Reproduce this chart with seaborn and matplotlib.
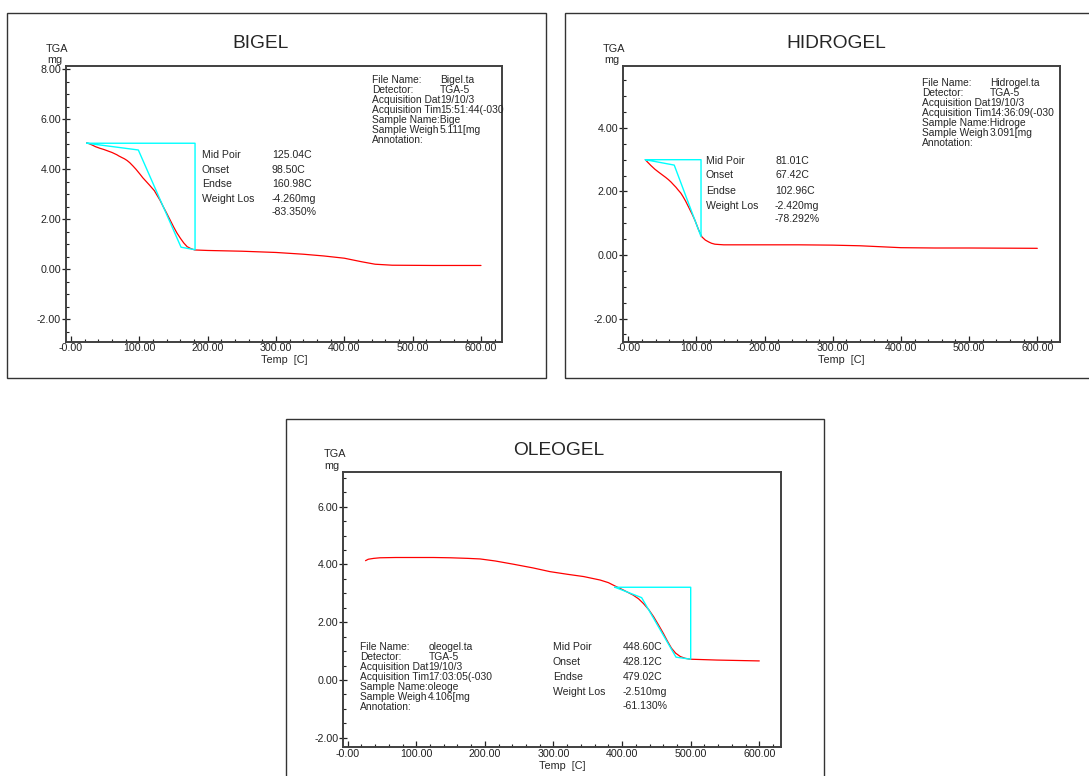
import numpy as np
import pandas as pd
import seaborn as sns
import matplotlib.pyplot as plt
from matplotlib.patches import Rectangle
from matplotlib.ticker import MultipleLocator, FixedLocator, FormatStrFormatter

W, H = 1089, 776

# ---- data ----
bigel_temp = [23, 30, 36, 42, 48, 55, 60, 67, 70, 75, 78, 82, 86, 91, 95, 101, 105, 111, 115,
              122, 125, 130, 135, 140, 145, 150, 155, 160, 165, 170, 175, 181,
              200, 250, 300, 340, 370, 400, 425, 445, 470, 530, 600]
bigel_mass = [5.06, 4.98, 4.90, 4.84, 4.79, 4.72, 4.67, 4.58, 4.53, 4.46, 4.42, 4.35, 4.26, 4.12,
              4.00, 3.80, 3.66, 3.48, 3.36, 3.14, 3.00, 2.77, 2.50, 2.24, 1.97, 1.70, 1.45,
              1.24, 1.05, 0.90, 0.83, 0.77, 0.75, 0.72, 0.67, 0.60, 0.53, 0.44, 0.30, 0.20,
              0.16, 0.15, 0.15]
bigel_tan_x = [23, 98.5, 161, 181.5, 181.5, 23]
bigel_tan_y = [5.04, 4.77, 0.88, 0.78, 5.04, 5.04]

hidro_temp = [25, 28, 33, 39, 45, 50, 55, 59, 63, 66, 70, 73, 77, 80, 84, 88, 91, 94, 98, 103,
              108, 113, 118, 122, 127, 133, 140, 200, 250, 300, 340, 370, 400, 450, 500, 600]
hidro_mass = [3.00, 2.93, 2.82, 2.70, 2.60, 2.52, 2.44, 2.37, 2.29, 2.22, 2.13, 2.05, 1.95, 1.85,
              1.70, 1.53, 1.40, 1.27, 1.08, 0.80, 0.57, 0.47, 0.41, 0.37, 0.34, 0.33, 0.32,
              0.32, 0.32, 0.31, 0.29, 0.26, 0.23, 0.22, 0.22, 0.21]
hidro_tan_x = [25, 67.4, 106.7, 106.7, 25]
hidro_tan_y = [3.00, 2.83, 0.58, 3.00, 3.00]

oleo_temp = [26, 30, 38, 47, 70, 96, 125, 150, 175, 193, 215, 241, 270, 295, 320, 344, 368, 380,
             390, 403, 416, 424, 431, 439, 446, 453, 460, 466, 472, 478, 485, 492, 499, 538, 600]
oleo_mass = [4.13, 4.18, 4.21, 4.23, 4.24, 4.24, 4.24, 4.23, 4.21, 4.19, 4.12, 4.01, 3.88, 3.75,
             3.66, 3.58, 3.46, 3.37, 3.25, 3.10, 2.94, 2.81, 2.65, 2.43, 2.19, 1.91, 1.62,
             1.35, 1.10, 0.93, 0.81, 0.75, 0.72, 0.69, 0.66]
oleo_tan_x = [389.6, 428.5, 478.6, 500, 500, 389.6]
oleo_tan_y = [3.21, 2.85, 0.79, 0.72, 3.21, 3.21]

x_ticks = [0, 100, 200, 300, 400, 500, 600]
x_tick_labels = ["-0.00", "100.00", "200.00", "300.00", "400.00", "500.00", "600.00"]

info_labels = ["File Name:", "Detector:", "Acquisition Dat", "Acquisition Tim",
               "Sample Name:", "Sample Weigh", "Annotation:"]
bigel_info = ["Bigel.ta", "TGA-5", "19/10/3", "15:51:44(-030", "Bige", "5.111[mg", ""]
hidro_info = ["Hidrogel.ta", "TGA-5", "19/10/3", "14:36:09(-030", "Hidroge", "3.091[mg", ""]
oleo_info = ["oleogel.ta", "TGA-5", "19/10/3", "17:03:05(-030", "oleoge", "4.106[mg", ""]

result_labels = ["Mid Poir", "Onset", "Endse", "Weight Los", ""]
bigel_results = ["125.04C", "98.50C", "160.98C", "-4.260mg", "-83.350%"]
hidro_results = ["81.01C", "67.42C", "102.96C", "-2.420mg", "-78.292%"]
oleo_results = ["448.60C", "428.12C", "479.02C", "-2.510mg", "-61.130%"]

sns.set_style("ticks")
plt.rcParams['font.family'] = ['Liberation Sans', 'DejaVu Sans']

fig = plt.figure(figsize=(W / 100, H / 100), dpi=100)


def fx(px):
    return px / W


def fy(py):
    return 1 - py / H


def ftext(px, py, s, **kw):
    fig.text(fx(px), fy(py), s, **kw)


def panel(box, ax_px, xlim, ylim, title, title_pos, temp, mass, tan_x, tan_y,
          info, info_pos, results, res_pos):
    # outer frame of the panel
    x0, y0, x1, y1 = box
    fig.patches.append(Rectangle((fx(x0), fy(y1)), fx(x1 - x0), (y1 - y0) / H,
                                 transform=fig.transFigure, fill=False,
                                 edgecolor="#333333", linewidth=1.0))
    l, t, r, b = ax_px
    ax = fig.add_axes([fx(l), fy(b), fx(r - l), (b - t) / H])
    df = pd.DataFrame({"temp": temp, "mass": mass})
    sns.lineplot(data=df, x="temp", y="mass", ax=ax, color="#ff0000", linewidth=0.9,
                 estimator=None)
    tan = pd.DataFrame({"x": tan_x, "y": tan_y})
    sns.lineplot(data=tan, x="x", y="y", ax=ax, color="#00ffff", linewidth=1.0,
                 estimator=None, sort=False)
    ax.set_xlim(*xlim)
    ax.set_ylim(*ylim)
    ax.set_xlabel("")
    ax.set_ylabel("")
    ax.xaxis.set_major_locator(FixedLocator(x_ticks))
    ax.set_xticklabels(x_tick_labels)
    ax.xaxis.set_minor_locator(MultipleLocator(20))
    ax.yaxis.set_major_locator(MultipleLocator(2))
    ax.yaxis.set_major_formatter(FormatStrFormatter("%.2f"))
    ax.yaxis.set_minor_locator(MultipleLocator(0.5))
    ax.tick_params(axis="x", which="major", direction="in", length=4, width=0.9,
                   pad=1.0, labelsize=7.7, colors="#222222")
    ax.tick_params(axis="y", which="major", direction="inout", length=6, width=0.9,
                   pad=0.4, labelsize=7.7, colors="#222222")
    ax.tick_params(which="minor", direction="in", length=2.5, width=0.8, colors="#222222")
    for sp in ax.spines.values():
        sp.set_color("#404040")
        sp.set_linewidth(1.4)

    ftext(title_pos[0], title_pos[1], title, fontsize=13.8, ha="center", va="center")
    ftext(l - 8.5, t - 17.5, "TGA", fontsize=7.8, ha="center", va="center")
    ftext(l - 11, t - 6, "mg", fontsize=7.8, ha="center", va="center")
    ftext((l + r) / 2, b + 18.5, "Temp  [C]", fontsize=7.8, ha="center", va="center")

    ix, vx, iy = info_pos
    for i, (lab, val) in enumerate(zip(info_labels, info)):
        if lab == "Sample Name:":
            ftext(ix, iy + 10 * i, lab + val, fontsize=7.4, ha="left", va="center")
            continue
        ftext(ix, iy + 10 * i, lab, fontsize=7.4, ha="left", va="center")
        ftext(vx, iy + 10 * i, val, fontsize=7.4, ha="left", va="center")

    rx, rvx, rys = res_pos
    for lab, val, yy in zip(result_labels, results, rys):
        ftext(rx, yy, lab, fontsize=7.6, ha="left", va="center")
        ftext(rvx, yy, val, fontsize=7.6, ha="left", va="center")
    return ax


panel((7.3, 13.3, 546, 377.7), (65.7, 66, 502.3, 341.7), (-7.8, 631.2), (-2.9, 8.13),
      "BIGEL", (260, 43.3), bigel_temp, bigel_mass, bigel_tan_x, bigel_tan_y,
      bigel_info, (371.7, 440, 80), bigel_results, (201.7, 272, [155, 170, 184, 199, 212.3]))

panel((565, 13.3, 1104, 377.7), (622.7, 66, 1060, 341.7), (-8.2, 633.3), (-2.73, 5.95),
      "HIDROGEL", (835.8, 43), hidro_temp, hidro_mass, hidro_tan_x, hidro_tan_y,
      hidro_info, (921.7, 990, 82.7), hidro_results, (705.7, 775, [161, 175, 190.7, 205.7, 219]))

panel((286, 419.3, 824, 790), (343.3, 471.7, 780.7, 747.3), (-6.4, 631.2), (-2.33, 7.21),
      "OLEOGEL", (559, 450), oleo_temp, oleo_mass, oleo_tan_x, oleo_tan_y,
      oleo_info, (360, 428.3, 647.3), oleo_results, (552.7, 622.3, [647.3, 662.3, 677.3, 692.3, 705.7]))

fig.savefig("out.png", dpi=100)
